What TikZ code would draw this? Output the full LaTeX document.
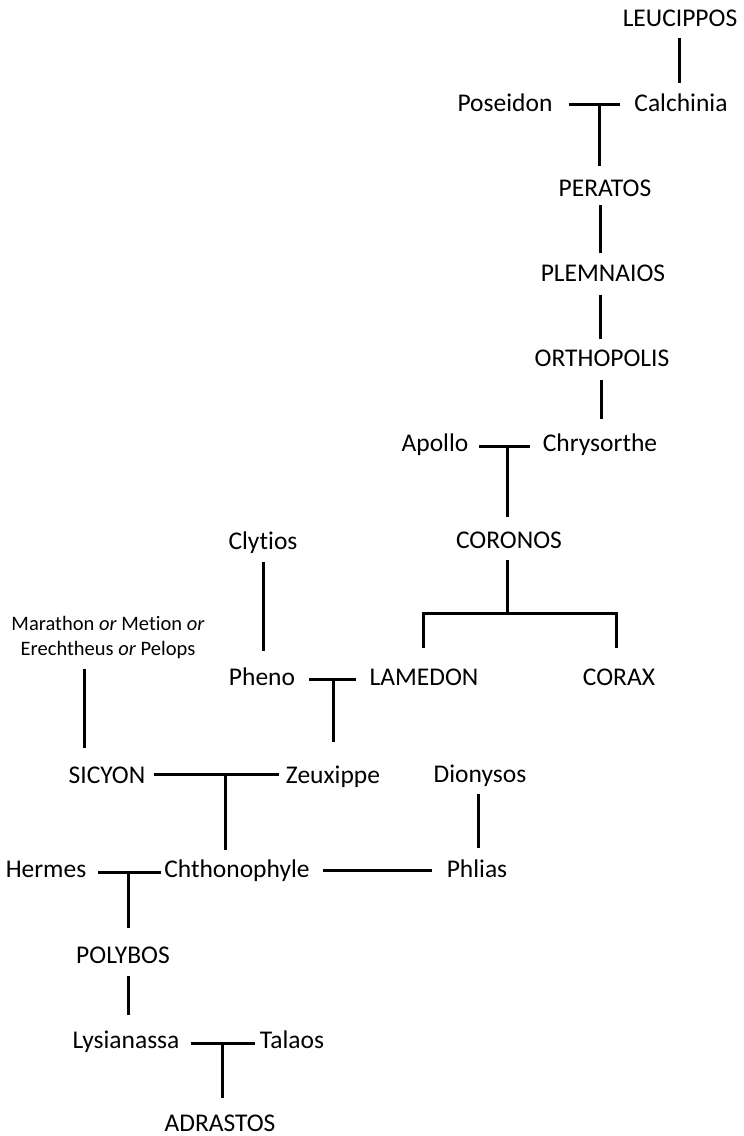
\documentclass[tikz,border=0pt]{standalone}
\usepackage{fontspec}
\setmainfont{Carlito}[Ligatures=NoCommon]
\begin{document}
\begin{tikzpicture}[x=1pt,y=-1pt,
  person/.style={font=\fontsize{25.5}{30}\selectfont, inner sep=0pt, text height=16.4pt, text depth=0pt, anchor=center},
  small/.style={font=\fontsize{20.5}{25}\selectfont, inner sep=0pt, align=center, anchor=center},
  link/.style={line width=3pt, black}]
\useasboundingbox (0,0) rectangle (744,1136);
% people
\node[person] (leu) at (680,18) {LEUCIPPOS};
\node[person] (pos) at (505,103) {Poseidon};
\node[person] (cal) at (681,103) {Calchinia};
\node[person] (per) at (605,188) {PERATOS};
\node[person] (ple) at (603,273) {PLEMNAIOS};
\node[person] (ort) at (602,358) {ORTHOPOLIS};
\node[person] (apo) at (435,443) {Apollo};
\node[person] (chr) at (600,443) {Chrysorthe};
\node[person] (cly) at (263,541) {Clytios};
\node[person] (cor) at (509,540) {CORONOS};
\node[small] (mar) at (108,638) {Marathon \textit{or} Metion \textit{or}\\Erechtheus \textit{or} Pelops};
\node[person] (phe) at (262,677) {Pheno};
\node[person] (lam) at (424,677) {LAMEDON};
\node[person] (crx) at (619,677) {CORAX};
\node[person] (sic) at (107,775) {SICYON};
\node[person] (zeu) at (333,775) {Zeuxippe};
\node[person] (dio) at (480,774) {Dionysos};
\node[person] (her) at (46,869) {Hermes};
\node[person] (cht) at (237,869) {Chthonophyle};
\node[person] (phl) at (477,869) {Phlias};
\node[person] (pol) at (123,955) {POLYBOS};
\node[person] (lys) at (126,1040) {Lysianassa};
\node[person] (tal) at (292,1040) {Talaos};
\node[person] (adr) at (220,1123) {ADRASTOS};
% junctions and line columns
\coordinate (tL) at (679,0);
\coordinate (jA) at (599,104);
\coordinate (tA) at (600,0);
\coordinate (tB) at (601,0);
\coordinate (jB) at (507,446);
\coordinate (jC) at (507,613);
\coordinate (kL) at (423,613);
\coordinate (kR) at (616,613);
\coordinate (tC) at (263,0);
\coordinate (tM) at (84,0);
\coordinate (jD) at (333,679);
\coordinate (jE) at (225,774);
\coordinate (tD) at (478,0);
\coordinate (jF) at (128,872);
\coordinate (tP) at (128,0);
\coordinate (jG) at (222,1043);
% connectors
\draw[link,shorten <=12pt,shorten >=12pt] (leu.south -| tL) -- (cal.north -| tL);
\draw[link,shorten <=16pt,shorten >=14pt] ([yshift=-1pt]pos.east) -- ([yshift=-1pt]cal.west);
\draw[link,shorten >=14pt] (jA) -- (per.north -| jA);
\draw[link,shorten <=9pt,shorten >=12pt] (per.south -| tA) -- (ple.north -| tA);
\draw[link,shorten <=14pt,shorten >=11pt] (ple.south -| tA) -- (ort.north -| tA);
\draw[link,shorten <=14pt,shorten >=16pt] (ort.south -| tB) -- (chr.north -| tB);
\draw[link,shorten <=10.5pt,shorten >=13pt] ([yshift=-3pt]apo.east) -- ([yshift=-3pt]chr.west);
\draw[link,shorten >=15pt] (jB) -- (cor.north -| jB);
\draw[link,shorten <=12pt] (cor.south -| jC) -- (jC);
\draw[link,shorten <=21pt,shorten >=21pt] (lam.north -| kL) -- (kL) -- (kR) -- (crx.north -| kR);
\draw[link,shorten <=13pt,shorten >=18pt] (cly.south -| tC) -- (phe.north -| tC);
\draw[link,shorten <=10pt,shorten >=19pt] (mar.south -| tM) -- (sic.north -| tM);
\draw[link,shorten <=13.5pt,shorten >=13pt] ([yshift=-2pt]phe.east) -- ([yshift=-2pt]lam.west);
\draw[link,shorten >=25pt] (jD) -- (zeu.north -| jD);
\draw[link,shorten <=8pt,shorten >=7pt] ([yshift=1pt]sic.east) -- ([yshift=1pt]zeu.west);
\draw[link,shorten >=11pt] (jE) -- (cht.north -| jE);
\draw[link,shorten <=12pt,shorten >=13pt] (dio.south -| tD) -- (phl.north -| tD);
\draw[link,shorten <=12pt,shorten >=3pt] ([yshift=-3pt]her.east) -- ([yshift=-3pt]cht.west);
\draw[link,shorten >=19pt] (jF) -- (pol.north -| jF);
\draw[link,shorten <=13pt,shorten >=15pt] ([yshift=-1pt]cht.east) -- ([yshift=-1pt]phl.west);
\draw[link,shorten <=13pt,shorten >=17pt] (pol.south -| tP) -- (lys.north -| tP);
\draw[link,shorten <=11pt,shorten >=5pt] ([yshift=-3pt]lys.east) -- ([yshift=-3pt]tal.west);
\draw[link,shorten >=17pt] (jG) -- (adr.north -| jG);
\end{tikzpicture}
\end{document}
